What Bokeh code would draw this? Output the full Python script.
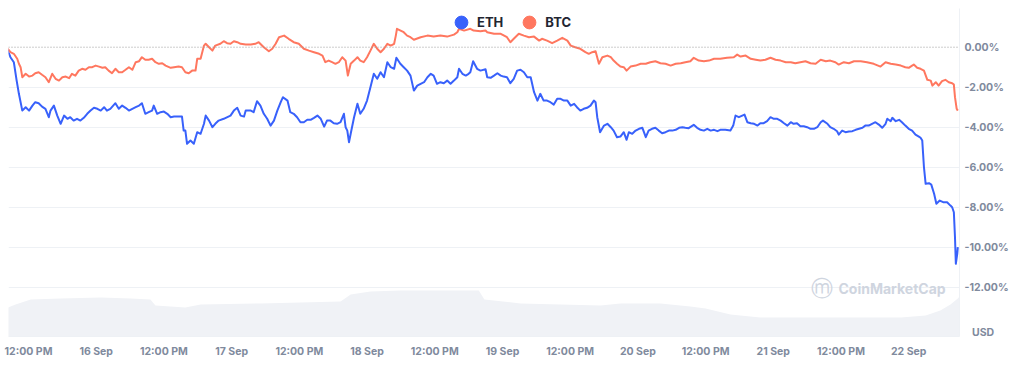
from bokeh.plotting import figure
from bokeh.models import (Range1d, FixedTicker, PrintfTickFormatter, Span, Legend,
                          LegendItem, Label)
from bokeh.embed import file_html
from bokeh.resources import INLINE

# time axis: hours since 15 Sep 00:00
eth_hours = [8.1, 8.8, 9.4, 9.9, 10.3, 10.9, 11.5, 12.1, 12.7, 13.2, 13.8, 14.4, 15.0, 15.6, 15.9,
             16.5, 17.1, 17.7, 18.3, 18.9, 19.4, 20.0, 20.6, 21.2, 21.8, 22.4, 23.0, 23.6, 24.2, 24.8,
             25.4, 25.9, 26.5, 27.4, 28.0, 28.6, 29.2, 29.8, 30.4, 31.0, 31.6, 32.1, 32.7, 33.3, 33.9,
             34.2, 34.8, 35.4, 36.0, 36.6, 37.2, 37.8, 38.3, 39.2, 39.5, 39.8, 40.1, 40.7, 41.3, 41.9,
             42.5, 43.1, 43.4, 44.0, 44.6, 45.1, 45.7, 46.6, 47.8, 48.4, 49.0, 49.6, 50.2, 50.5, 50.8,
             51.4, 51.9, 52.5, 53.1, 53.7, 54.3, 54.9, 55.5, 56.1, 56.7, 57.1, 57.9, 58.4, 59.0, 59.6,
             60.2, 60.8, 61.4, 62.0, 62.6, 63.2, 63.8, 64.4, 64.9, 65.5, 66.1, 66.7, 67.3, 67.9, 68.2,
             68.5, 68.8, 69.1, 69.7, 70.3, 70.8, 71.4, 72.0, 72.6, 73.2, 73.8, 74.4, 75.0, 75.6, 76.2,
             76.8, 77.2, 77.9, 78.5, 79.1, 79.7, 80.3, 80.9, 81.5, 82.1, 82.7, 83.3, 83.8, 84.4, 85.0,
             85.6, 86.2, 86.8, 87.4, 88.0, 88.3, 88.9, 89.5, 90.0, 90.3, 90.8, 91.5, 92.1, 93.0, 93.3,
             93.9, 94.5, 95.1, 95.7, 96.2, 96.8, 97.4, 98.0, 98.6, 99.2, 99.8, 100.4, 101.0, 101.6, 102.2,
             102.7, 103.3, 103.9, 104.5, 105.1, 105.7, 106.3, 106.9, 107.5, 108.1, 108.7, 109.2, 109.8, 110.4, 111.0,
             111.6, 112.2, 112.5, 112.8, 113.3, 114.0, 114.6, 115.2, 115.7, 116.3, 116.9, 117.5, 118.0, 118.4, 119.0,
             119.6, 120.2, 120.8, 121.4, 121.9, 122.5, 123.1, 123.7, 124.3, 124.9, 125.5, 126.1, 126.7, 127.3, 127.9,
             128.4, 129.0, 129.9, 130.5, 131.1, 131.7, 132.3, 132.9, 133.5, 134.1, 134.6, 135.5, 136.4, 136.9, 137.3,
             137.9, 138.5, 138.9, 139.4, 140.0, 140.6, 141.2, 141.7, 142.3, 142.9, 143.5, 144.1, 144.7, 145.3, 145.9,
             146.5, 147.1, 147.6, 148.2, 148.8, 149.4, 150.0, 150.6, 151.2, 151.8, 152.4, 152.8, 153.6, 154.1, 154.7,
             155.3, 155.6, 156.2, 156.8, 157.4, 158.0, 158.6, 159.2, 159.8, 160.3, 160.9, 161.5, 162.1, 162.7, 163.3,
             163.9, 164.2, 164.8, 165.1, 165.7, 166.3, 166.8, 167.4, 168.0, 168.6, 169.2, 169.8, 170.1, 170.4, 170.7,
             171.0, 171.6, 172.0, 172.5, 172.9, 173.5, 174.1, 174.8, 175.4, 175.7, 176.0, 176.2, 176.35, 176.6, 176.7]
eth_pct = [0.00, -0.50, -0.75, -1.67, -2.33, -3.17, -3.00, -3.17, -2.92, -2.75, -2.80, -2.97, -3.08, -3.50, -3.17,
           -2.92, -3.42, -3.83, -3.42, -3.58, -3.50, -3.67, -3.58, -3.67, -3.53, -3.33, -3.17, -3.03, -3.08, -3.17,
           -3.00, -3.17, -3.08, -2.80, -3.08, -2.92, -3.03, -3.17, -3.08, -3.00, -2.92, -2.80, -3.33, -3.25, -3.17,
           -2.92, -3.33, -3.25, -3.22, -3.33, -3.50, -3.47, -3.47, -3.47, -4.17, -4.17, -4.83, -4.67, -4.83, -4.25,
           -4.33, -3.83, -3.42, -3.67, -4.00, -3.83, -3.67, -3.58, -3.42, -3.17, -3.03, -3.42, -3.47, -3.17, -3.17,
           -3.17, -3.25, -2.70, -2.92, -3.33, -3.58, -3.92, -3.67, -3.17, -2.75, -2.50, -2.67, -3.25, -3.33, -3.50,
           -3.75, -3.75, -3.63, -3.63, -3.53, -3.42, -3.58, -3.97, -3.67, -3.67, -3.80, -3.83, -3.75, -3.33, -4.00,
           -4.17, -4.75, -4.33, -3.50, -2.83, -3.33, -3.08, -2.67, -2.00, -1.33, -1.58, -1.25, -1.50, -0.75, -1.00,
           -1.08, -0.53, -0.83, -1.00, -1.17, -1.42, -2.17, -1.92, -1.83, -1.75, -1.50, -1.33, -1.42, -1.83, -1.75,
           -1.80, -1.67, -1.83, -1.67, -1.50, -1.08, -1.33, -1.42, -1.33, -1.25, -0.70, -1.08, -1.17, -1.10, -1.50,
           -1.53, -1.42, -1.30, -1.42, -1.47, -1.50, -1.80, -1.58, -1.17, -1.13, -1.25, -1.50, -1.50, -2.25, -2.67,
           -2.33, -2.67, -2.67, -2.75, -2.87, -2.58, -2.58, -2.67, -2.67, -2.92, -2.83, -3.00, -3.17, -3.08, -3.03,
           -2.92, -2.67, -2.75, -3.50, -4.25, -3.92, -3.83, -4.00, -4.17, -4.50, -4.47, -4.25, -4.63, -4.25, -4.33,
           -4.17, -4.08, -4.03, -4.50, -4.17, -4.08, -4.03, -4.17, -4.30, -4.25, -4.17, -4.17, -4.13, -4.03, -4.00,
           -4.03, -4.05, -3.88, -4.03, -4.13, -4.17, -4.08, -4.17, -4.13, -4.20, -4.13, -4.13, -4.17, -3.92, -3.42,
           -3.50, -3.42, -3.37, -3.75, -3.80, -3.83, -3.92, -3.80, -3.80, -3.70, -3.50, -3.58, -3.58, -3.67, -3.80,
           -3.92, -3.75, -3.83, -3.80, -3.95, -3.95, -4.00, -4.08, -4.08, -4.00, -3.75, -3.67, -3.83, -4.00, -4.08,
           -4.20, -4.37, -4.17, -4.25, -4.22, -4.20, -4.13, -4.08, -4.03, -3.92, -3.92, -3.83, -3.75, -3.87, -4.03,
           -3.83, -3.58, -3.70, -3.53, -3.70, -3.63, -3.75, -3.92, -4.08, -4.17, -4.37, -4.47, -4.53, -4.67, -6.00,
           -6.83, -6.80, -6.87, -7.33, -7.83, -7.67, -7.75, -7.75, -7.92, -8.00, -8.25, -9.50, -10.83, -10.33, -10.00]

btc_hours = [8.1, 8.8, 9.4, 10.0, 10.3, 10.6, 10.9, 11.5, 12.1, 12.7, 13.2, 13.8, 14.4, 15.0, 15.6,
             16.2, 16.8, 17.4, 18.0, 18.6, 19.2, 19.7, 20.3, 20.9, 21.5, 22.1, 22.7, 23.3, 23.9, 24.5,
             25.1, 25.6, 26.2, 26.8, 27.4, 28.0, 28.6, 29.2, 29.8, 30.4, 31.0, 31.6, 32.1, 32.7, 33.3,
             33.9, 34.5, 35.1, 35.7, 36.3, 37.2, 37.8, 38.6, 39.2, 39.8, 40.4, 41.0, 41.6, 41.9, 42.5,
             43.1, 43.4, 44.0, 44.6, 45.1, 46.0, 46.6, 47.2, 47.8, 48.4, 49.0, 49.6, 50.5, 51.4, 52.2,
             52.8, 53.7, 54.6, 55.2, 55.8, 56.4, 57.3, 58.1, 59.0, 59.9, 60.8, 61.7, 62.6, 63.5, 64.1,
             64.6, 65.2, 65.8, 66.4, 67.0, 67.6, 68.2, 68.6, 69.1, 69.7, 70.3, 70.8, 71.4, 72.0, 72.6,
             73.2, 73.8, 74.4, 75.0, 75.6, 76.2, 76.8, 77.1, 77.3, 78.5, 79.1, 79.7, 80.3, 81.5, 82.7,
             83.8, 85.0, 86.2, 87.4, 88.0, 88.3, 89.2, 90.3, 90.9, 92.1, 93.0, 93.3, 94.5, 95.7, 96.8,
             97.4, 98.0, 98.9, 99.8, 100.7, 101.6, 102.5, 103.0, 103.9, 104.8, 105.7, 106.6, 107.5, 108.1, 108.9,
             109.8, 110.7, 111.3, 111.9, 112.5, 113.1, 113.7, 114.6, 115.2, 115.7, 116.3, 116.9, 117.5, 118.0, 118.7,
             119.6, 120.5, 121.4, 122.2, 123.1, 124.0, 124.9, 125.8, 126.7, 127.6, 128.4, 129.3, 129.9, 130.8, 131.7,
             132.6, 133.5, 134.6, 135.8, 137.0, 137.6, 138.2, 139.1, 140.0, 140.9, 141.7, 142.6, 143.5, 144.4, 145.3,
             146.2, 147.1, 147.9, 148.8, 149.7, 150.6, 151.5, 152.4, 153.3, 154.1, 155.0, 155.6, 156.5, 157.4, 158.3,
             159.5, 160.6, 161.8, 163.0, 163.9, 164.8, 165.7, 166.6, 167.4, 168.0, 168.6, 168.9, 169.5, 170.1, 170.7,
             171.3, 171.9, 172.2, 172.8, 173.3, 173.9, 174.5, 175.1, 175.7, 176.0, 176.2, 176.5, 176.7]
btc_pct = [0.00, -0.25, -0.33, -0.58, -0.83, -1.00, -1.50, -1.33, -1.47, -1.42, -1.30, -1.25, -1.38, -1.50, -1.75,
           -1.33, -1.58, -1.67, -1.50, -1.47, -1.55, -1.33, -1.42, -1.17, -1.08, -1.13, -1.00, -1.00, -0.92, -0.97,
           -1.03, -1.00, -1.17, -1.30, -1.08, -1.25, -1.25, -1.13, -1.00, -1.13, -0.75, -0.70, -0.50, -0.63, -0.63,
           -0.58, -0.75, -0.83, -0.80, -0.92, -1.03, -1.00, -0.97, -1.00, -1.25, -1.30, -1.17, -1.17, -0.58, -0.58,
           0.08, 0.17, 0.00, -0.17, 0.08, 0.17, 0.30, 0.20, 0.17, 0.30, 0.25, 0.17, 0.13, 0.13, 0.17,
           0.25, 0.00, -0.20, -0.08, 0.17, 0.50, 0.58, 0.42, 0.25, 0.17, -0.08, -0.17, -0.25, -0.33, -0.42,
           -0.75, -0.67, -0.75, -0.83, -0.75, -0.50, -0.67, -1.42, -0.83, -0.67, -0.50, -0.67, -0.75, -0.50, -0.17,
           0.17, -0.08, -0.25, -0.08, 0.17, 0.08, 0.17, 0.58, 0.92, 0.75, 0.58, 0.50, 0.37, 0.50, 0.58,
           0.53, 0.58, 0.53, 0.63, 0.75, 0.92, 0.83, 0.92, 0.83, 0.80, 0.83, 0.75, 0.67, 0.67, 0.50,
           0.25, 0.42, 0.67, 0.58, 0.50, 0.53, 0.33, 0.42, 0.33, 0.20, 0.33, 0.47, 0.33, 0.08, 0.00,
           -0.08, -0.25, -0.33, -0.25, -0.20, -0.83, -0.50, -0.42, -0.50, -0.67, -0.83, -0.97, -1.00, -1.17, -0.97,
           -0.92, -0.83, -0.83, -0.75, -0.70, -0.80, -0.83, -0.92, -0.83, -0.80, -0.75, -0.70, -0.53, -0.67, -0.70,
           -0.67, -0.58, -0.58, -0.53, -0.50, -0.37, -0.47, -0.42, -0.58, -0.63, -0.67, -0.63, -0.53, -0.63, -0.67,
           -0.75, -0.75, -0.80, -0.75, -0.70, -0.80, -0.83, -0.63, -0.70, -0.67, -0.75, -0.87, -0.75, -0.80, -0.70,
           -0.70, -0.75, -0.83, -0.97, -0.75, -0.83, -0.87, -0.92, -1.00, -1.03, -0.92, -0.87, -1.03, -1.08, -1.17,
           -1.63, -1.67, -1.92, -1.75, -1.92, -1.70, -1.63, -1.75, -1.80, -1.87, -2.50, -3.08, -3.17]

# traded volume (relative, USD bn) in the strip at the bottom
vol_hours = [7.9, 9.7, 12.4, 17.7, 24.8, 30.1, 33.6, 34.5, 39.8, 42.5, 53.1, 60.2, 67.3, 69.1, 72.6,
             77.9, 85.0, 91.8, 92.8, 99.2, 106.3, 113.4, 116.9, 124.0, 129.3, 132.0, 136.4, 141.7, 148.8,
             157.7, 166.6, 171.0, 173.6, 175.4, 176.7, 177.0]
vol_bn = [14, 16, 18.5, 19, 19.5, 19, 18.5, 15.5, 14.5, 16, 16.5, 17, 17.5, 21, 22.5,
          23, 23, 23, 18.5, 16.5, 16, 15.5, 16.5, 16.5, 15, 14, 11, 9.5, 9.5,
          9.5, 9.5, 10.5, 13, 16, 19, 20]

tick_hours = [12, 24, 36, 48, 60, 72, 84, 96, 108, 120, 132, 144, 156, 168]
tick_labels = ["12:00 PM", "16 Sep", "12:00 PM", "17 Sep", "12:00 PM", "18 Sep", "12:00 PM",
               "19 Sep", "12:00 PM", "20 Sep", "12:00 PM", "21 Sep", "12:00 PM", "22 Sep"]
y_ticks = [0, -2, -4, -6, -8, -10, -12]
unit_tick = -14.27
unit_label = "USD"

ETH_COLOR = "#3861fb"
BTC_COLOR = "#ff775f"
GRID = "#eef1f5"
LABEL = "#808a9d"

p = figure(width=1016, height=375, output_backend="svg", toolbar_location=None,
           x_range=Range1d(8.455, 177.0), y_range=Range1d(-14.465, 1.935),
           y_axis_location="right",
           min_border_left=8, min_border_top=8, min_border_right=57, min_border_bottom=39)
p.outline_line_color = None
p.background_fill_color = "white"

p.extra_y_ranges = {"vol": Range1d(0, 164)}
p.varea(x=vol_hours, y1=0, y2=vol_bn, y_range_name="vol", fill_color="#f0f2f6")

p.xgrid.visible = False
p.ygrid.ticker = FixedTicker(ticks=[t for t in y_ticks if t != 0])
p.ygrid.grid_line_color = GRID
p.add_layout(Span(location=0, dimension="width", line_color="#9a9a9a",
                  line_dash="1 2", line_width=1))

p.line(eth_hours, eth_pct, line_color=ETH_COLOR, line_width=2, line_join="round")
p.line(btc_hours, btc_pct, line_color=BTC_COLOR, line_width=2, line_join="round")

xa = p.xaxis[0]
xa.ticker = FixedTicker(ticks=tick_hours)
xa.major_label_overrides = dict(zip(tick_hours, tick_labels))
ya = p.yaxis[0]
ya.ticker = FixedTicker(ticks=y_ticks + [unit_tick])
ya.formatter = PrintfTickFormatter(format="%.2f%%")
ya.major_label_overrides = {unit_tick: "\u00a0\u00a0\u00a0" + unit_label}
for ax in (xa, ya):
    ax.axis_line_color = GRID
    ax.major_tick_line_color = None
    ax.minor_tick_line_color = None
    ax.major_tick_out = 0
    ax.major_tick_in = 0
    ax.minor_tick_out = 0
    ax.major_label_text_font = "Inter"
    ax.major_label_text_font_style = "bold"
    ax.major_label_text_font_size = "10.5px"
    ax.major_label_text_color = LABEL
xa.major_label_standoff = 8
ya.major_label_standoff = 5

# legend keys: hidden marker renderers on each series' first point
r_eth = p.scatter(eth_hours[:1], eth_pct[:1], marker="circle", size=13,
                  fill_color=ETH_COLOR, line_color=ETH_COLOR, visible=False)
r_btc = p.scatter(btc_hours[:1], btc_pct[:1], marker="circle", size=13,
                  fill_color=BTC_COLOR, line_color=BTC_COLOR, visible=False)
legend = Legend(items=[LegendItem(label="ETH", renderers=[r_eth]),
                       LegendItem(label="BTC", renderers=[r_btc])],
                orientation="horizontal", location=(437, 298),
                glyph_width=32, glyph_height=32, label_standoff=0, spacing=10,
                padding=0, margin=0, border_line_color=None, background_fill_alpha=0,
                inactive_fill_alpha=0,
                label_text_font="Inter", label_text_font_style="bold",
                label_text_font_size="13px", label_text_color="#222531")
p.add_layout(legend)

p.add_layout(Label(x=813, y=48, x_units="screen", y_units="screen", text="\u24dc",
                   text_font="DejaVu Sans", text_font_size="22px", text_color="#cfd5df",
                   text_align="center", text_baseline="middle"))
p.add_layout(Label(x=830, y=48, x_units="screen", y_units="screen", text="CoinMarketCap",
                   text_font="Inter", text_font_style="bold", text_font_size="14px",
                   text_color="#cfd5df", text_align="left", text_baseline="middle"))

open("out.html", "w").write(file_html(p, INLINE))
